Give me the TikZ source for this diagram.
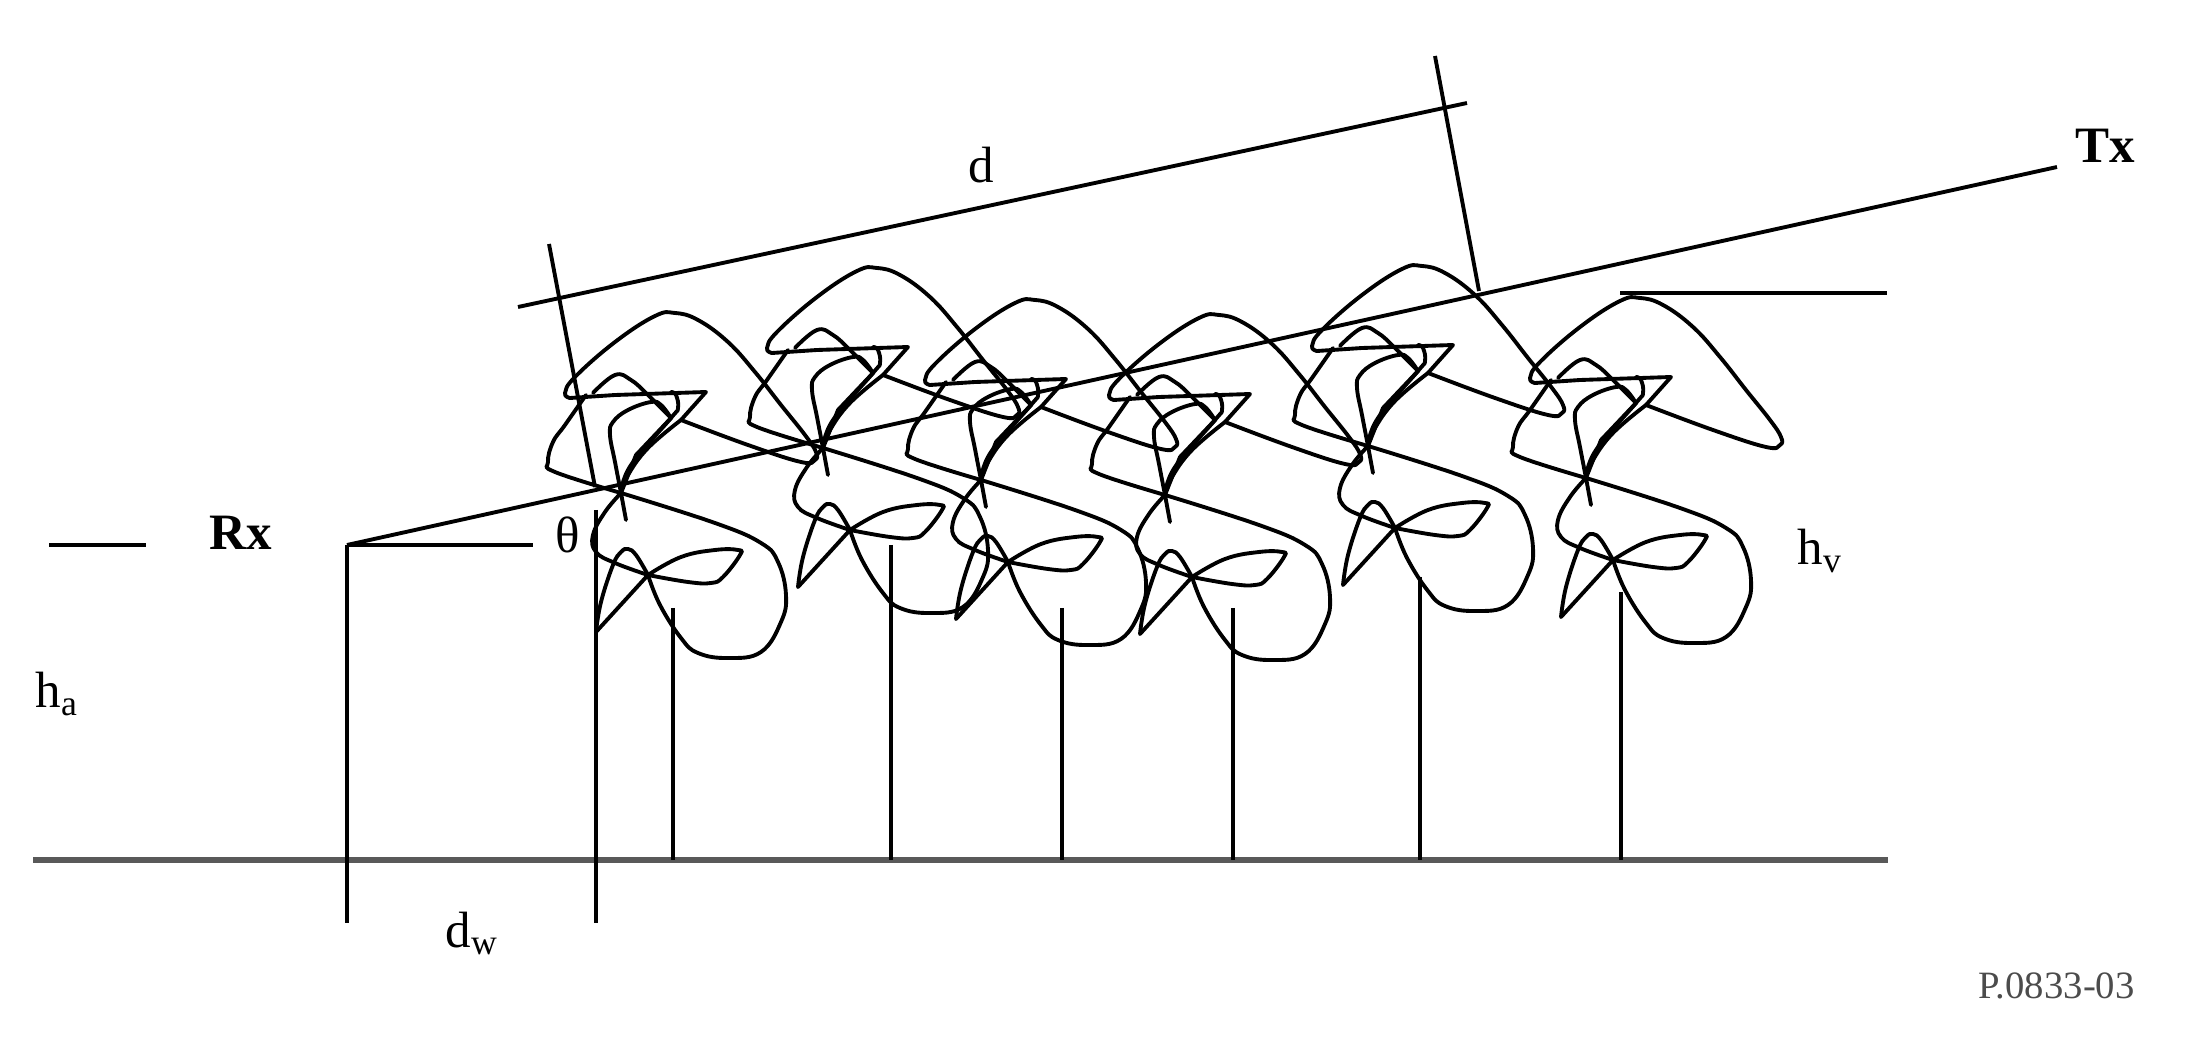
\documentclass[tikz,border=0pt]{standalone}
\usepackage{fontspec}
\setmainfont{Liberation Serif}
\tikzset{
  crown/.style={line width=1.1pt,line join=round,line cap=round,smooth,tension=0.7},
  thin line/.style={line width=1.1pt,line cap=butt},
  trunk/.style={line width=1.4pt},
  ground/.style={line width=1.9pt,color=black!65},
  lab/.style={inner sep=0pt,anchor=base west},
  big/.style={lab,font=\fontsize{14.5}{18}\selectfont},
  bigb/.style={lab,font=\fontsize{14.5}{18}\selectfont\bfseries},
  tiny/.style={lab,font=\fontsize{11}{12}\selectfont,color=black!70}
}
% one crown, origin in the lower hub
\newcommand{\treecrown}{%
\draw[crown] plot coordinates {(0,0) (12,30) (33,63) (50,78) (80,83) (113,77) (133,47) (138,20) (130,-13) (113,-32) (67,-52) (-27,-82)};
\draw[crown] plot coordinates {(-27,-82) (-43,-63) (-55,-40) (-52,-23) (-33,-12) (0,0)};
\draw[crown] plot coordinates {(0,0) (40,7) (63,8) (75,2) (92,-20) (90,-25) (67,-25) (33,-18) (0,0)};
\draw[crown] (0,0) -- (-52,57);
\draw[crown] plot coordinates {(-52,57) (-47,27) (-35,-10) (-27,-23) (-20,-26) (-12,-20) (0,0)};
\draw[crown] (-27,-82) -- (-22,-55);
\draw[crown] plot coordinates {(-27,-82) (-93,-103) (-100,-113) (-95,-133) (-83,-150) (-62,-180)};
\draw[crown] (58,-183) -- (-33,-180) -- (-78,-177);
\draw[crown] plot coordinates {(-78,-177) (-83,-182) (-73,-198) (-33,-233) (7,-259) (27,-262) (50,-255) (80,-233) (107,-203) (133,-170) (157,-140) (168,-123) (167,-115) (153,-113) (100,-130) (33,-155)};
\draw[crown] (33,-155) -- (58,-183);
\draw[crown] plot coordinates {(-27,-82) (-20,-100) (0,-127) (33,-155)};
\draw[crown] plot coordinates {(-27,-82) (-17,-110) (23,-157) (30,-167) (28,-180) (23,-183)};
\draw[crown] plot coordinates {(-27,-82) (-33,-113) (-38,-140) (-35,-153) (-20,-165) (3,-173) (13,-170) (23,-157)};
\draw[crown] (23,-157) -- (-12,-120) -- (-27,-82);
\draw[crown] plot coordinates {(-55,-182) (-33,-200) (-17,-195) (0,-180) (23,-157)};
}
\begin{document}
\begin{tikzpicture}[x=0.01cm,y=-0.01cm]
\useasboundingbox (0,0) rectangle (2190,1061);
% ground
\coordinate (gl) at (33,860);
\coordinate (gr) at (1888,860);
\draw[ground] (gl) -- (gr);
% trees
\foreach \n/\hx/\hy/\tx/\ty in {1/648/575/673/608,2/850/530/891/545,3/1008/562/1062/608,4/1192/577/1233/608,5/1395/528/1420/577,6/1613/560/1621/592}{
\coordinate (top\n) at (\tx,\ty);
\coordinate (foot\n) at (\tx,860);
\draw[trunk] (top\n) -- (foot\n);
\begin{scope}[shift={(\hx,\hy)}]
\treecrown
\end{scope}
}
% geometry lines
\coordinate (rx) at (347,545);
\coordinate (rxfoot) at (347,923);
\coordinate (rxh) at (533,545);
\coordinate (tx) at (2057,167);
\coordinate (wt) at (596,510);
\coordinate (wb) at (596,923);
\coordinate (dl) at (518,307);
\coordinate (dr) at (1467,103);
\coordinate (el1) at (549,244);
\coordinate (el2) at (595,487);
\coordinate (er1) at (1435,56);
\coordinate (er2) at (1479,291);
\coordinate (hl) at (1620,293);
\coordinate (hr) at (1887,293);
\coordinate (tl) at (49,545);
\coordinate (tr) at (146,545);
\draw[thin line] (rx) -- (rxfoot);
\draw[thin line] (rx) -- (rxh);
\draw[thin line] (rx) -- (tx);
\draw[thin line] (wt) -- (wb);
\draw[thin line] (dl) -- (dr);
\draw[thin line] (el1) -- (el2);
\draw[thin line] (er1) -- (er2);
\draw[thin line] (hl) -- (hr);
\draw[thin line] (tl) -- (tr);
% labels
\node[bigb] (rxlab) at (209,550) {Rx};
\node[bigb] (txlab) at (2075,163) {Tx};
\node[big] (dlab) at (968,183) {d};
\node[big] (thetalab) at (555,553) {θ};
\node[big] (halab) at (35,708) {h\textsubscript{a}};
\node[big] (hvlab) at (1797,565) {h\textsubscript{v}};
\node[big] (dwlab) at (445,947) {d\textsubscript{w}};
\node[tiny] (reflab) at (1978,998) {P.0833-03};
\end{tikzpicture}
\end{document}
